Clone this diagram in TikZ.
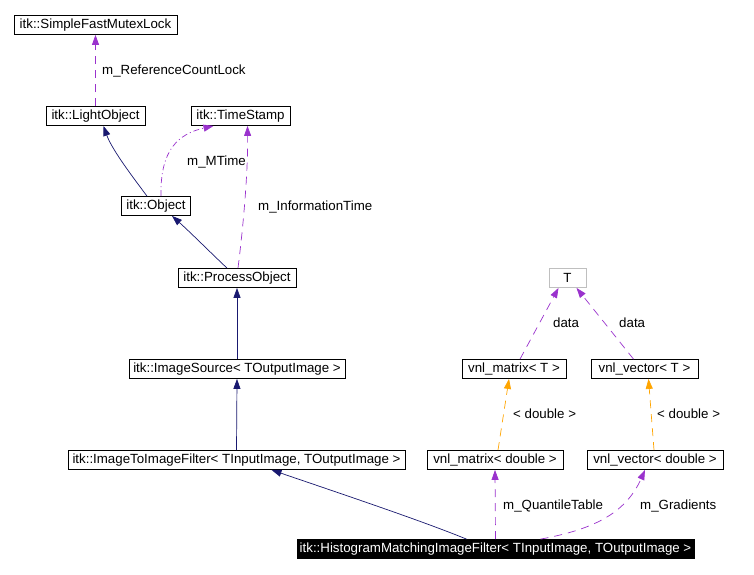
\documentclass[tikz,border=0pt]{standalone}
\usepackage{fontspec}
\setmainfont{Liberation Sans}
\usetikzlibrary{arrows.meta}
\definecolor{navyc}{HTML}{191970}
\definecolor{purc}{HTML}{9A32CD}
\definecolor{orc}{HTML}{FFA500}
\begin{document}
\begin{tikzpicture}[x=1pt,y=-1pt,
  box/.style={draw=black, line width=0.8pt, inner sep=0pt, minimum height=19pt, font=\fontsize{13.3}{15}\selectfont},
  lbl/.style={anchor=west, inner sep=0pt, font=\fontsize{13.3}{15}\selectfont},
  tip/.style={-{Triangle[length=10pt,width=7pt]}},
  inh/.style={tip, draw=navyc, line width=0.7pt},
  usage/.style={tip, draw=purc, line width=0.7pt, dash pattern=on 8pt off 6pt},
  usagedd/.style={tip, draw=purc, line width=0.7pt, dash pattern=on 6pt off 3pt on 1pt off 3pt},
  tmpl/.style={tip, draw=orc, line width=0.7pt, dash pattern=on 8pt off 6pt}]
\useasboundingbox (0,0) rectangle (754,574);
\fill[white] (0,0) rectangle (754,574);
% nodes
\node[box, minimum width=163pt] (sfml) at (95.5,25) {itk::SimpleFastMutexLock};
\node[box, minimum width=99pt] (lo) at (95.5,116) {itk::LightObject};
\node[box, minimum width=99pt] (ts) at (240.5,116) {itk::TimeStamp};
\node[box, minimum width=69pt] (obj) at (156,206) {itk::Object};
\node[box, minimum width=118pt] (po) at (237,278) {itk::ProcessObject};
\node[box, minimum width=216pt] (is) at (237,369) {itk::ImageSource< TOutputImage >};
\node[box, minimum width=337pt] (itif) at (236.5,460) {itk::ImageToImageFilter< TInputImage, TOutputImage >};
\node[box, draw=black!25, minimum width=37pt] (T) at (567.5,278) {T};
\node[box, minimum width=104pt] (vmT) at (514,369) {vnl\_matrix< T >};
\node[box, minimum width=107pt] (vvT) at (644.5,369) {vnl\_vector< T >};
\node[box, minimum width=136pt] (vmd) at (495,460) {vnl\_matrix< double >};
\node[box, minimum width=136pt] (vvd) at (655,460) {vnl\_vector< double >};
\node[box, fill=black, text=white, minimum width=397pt] (hm) at (495.5,549) {itk::HistogramMatchingImageFilter< TInputImage, TOutputImage >};
% edges
\draw[usage] (lo.north) -- (sfml.south);
\node[lbl] (l1) at (102,71) {m\_ReferenceCountLock};
\draw[inh] ([xshift=-9pt]obj.north) .. controls (135,180) and (112,150) .. ([xshift=8pt]lo.south);
\draw[usagedd] ([xshift=5pt]obj.north) .. controls (160,150) and (178,134) .. ([xshift=-27pt]ts.south);
\node[lbl] (l2) at (187,162) {m\_MTime};
\draw[inh] ([xshift=-10pt]po.north) .. controls (210,252) and (190,232) .. ([xshift=16pt]obj.south);
\draw[usage] ([xshift=1pt]po.north) .. controls (244,220) and (248,170) .. ([xshift=7pt]ts.south);
\node[lbl] (l3) at (258,207) {m\_InformationTime};
\draw[inh] (is.north) -- (po.south);
\draw[inh] (itif.north) -- (is.south);
\draw[inh] ([xshift=-29pt]hm.north) .. controls (420,520) and (330,490) .. ([xshift=35pt]itif.south);
\draw[usage] (hm.north) -- (vmd.south);
\node[lbl] (l4) at (503,506) {m\_QuantileTable};
\draw[usage] ([xshift=45pt]hm.north) .. controls (590,530) and (625,515) .. ([xshift=-10pt]vvd.south);
\node[lbl] (l5) at (640,506) {m\_Gradients};
\draw[tmpl] ([xshift=3pt]vmd.north) -- ([xshift=-5pt]vmT.south);
\node[lbl] (l6) at (513,414) {< double >};
\draw[tmpl] ([xshift=-1pt]vvd.north) -- ([xshift=4pt]vvT.south);
\node[lbl] (l7) at (657,414) {< double >};
\draw[usage] ([xshift=6pt]vmT.north) -- ([xshift=-9pt]T.south);
\node[lbl] (l8) at (553,323) {data};
\draw[usage] ([xshift=-11pt]vvT.north) -- ([xshift=9pt]T.south);
\node[lbl] (l9) at (619,323) {data};
\end{tikzpicture}
\end{document}
